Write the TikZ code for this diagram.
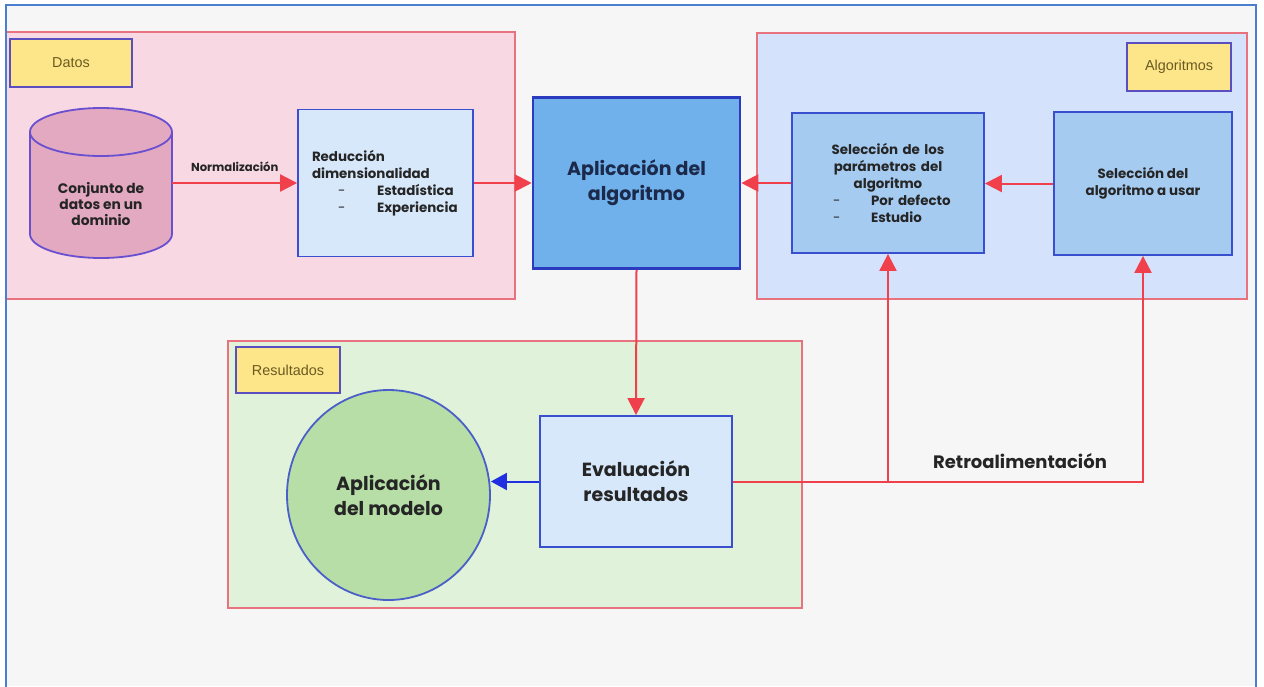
\documentclass[tikz,border=0pt]{standalone}
\usepackage{fontspec}
\setmainfont{Poppins}
\newfontfamily\tagfont{Liberation Sans}
\usetikzlibrary{arrows.meta,shapes.geometric}

\definecolor{frameblue}{HTML}{4A7FD0}
\definecolor{pagebg}{HTML}{F6F6F6}
\definecolor{panelred}{HTML}{E8737F}
\definecolor{datosfill}{HTML}{F7D8E3}
\definecolor{algfill}{HTML}{D4E3FB}
\definecolor{resfill}{HTML}{E0F2DA}
\definecolor{tagfill}{HTML}{FDE68A}
\definecolor{tagedge}{HTML}{5B4FC0}
\definecolor{tagtext}{HTML}{6B5A20}
\definecolor{cylfill}{HTML}{E2A9C0}
\definecolor{cyledge}{HTML}{6A4FD0}
\definecolor{boxedge}{HTML}{3A4FD0}
\definecolor{lightbox}{HTML}{D7E8FB}
\definecolor{midbox}{HTML}{A5CBF1}
\definecolor{corefill}{HTML}{70B0EB}
\definecolor{coreedge}{HTML}{2A3BC0}
\definecolor{corecolor}{HTML}{1B2A4A}
\definecolor{modelfill}{HTML}{B6DEA6}
\definecolor{modeledge}{HTML}{4A5FC8}
\definecolor{flowred}{HTML}{F0404C}
\definecolor{flowblue}{HTML}{2030E0}
\definecolor{ink}{HTML}{252525}

\newcommand{\smalltxt}{\fontsize{6.7}{8.5}\selectfont\bfseries}
\newcommand{\bigtxt}{\fontsize{9.5}{12.5}\selectfont\bfseries}
% bullet line: light dash and item text at fixed offsets
\newcommand{\dashitem}[3]{\hspace*{#1}\makebox[#2][l]{\mdseries -}#3}

\tikzset{
  panel/.style={draw=panelred, line width=0.7pt},
  tag/.style={draw=tagedge, fill=tagfill, line width=0.8pt, inner sep=0pt,
    text=tagtext, font=\tagfont\fontsize{7.2}{8}\selectfont},
  stepbox/.style={draw=boxedge, line width=0.9pt, inner sep=0pt, text=ink},
  flow/.style={draw=flowred, line width=1pt, -{Triangle[length=8.5pt,width=8.5pt]}},
}

\begin{document}
\begin{tikzpicture}[x=0.5pt,y=-0.5pt]
\useasboundingbox (0,0) rectangle (1264,686);
\fill[white] (0,0) rectangle (1264,686);
\fill[pagebg] (6,5) rectangle (1256,686);

% containers
\draw[panel, fill=datosfill] (6,32) rectangle (515,299);
\draw[panel, fill=algfill] (757,33) rectangle (1247,299);
\draw[panel, fill=resfill] (228,341) rectangle (802,608);

% page frame
\draw[frameblue, line width=1pt] (6,690) -- (6,5) -- (1256,5) -- (1256,690);

% group tags
\node[tag, minimum width=61pt, minimum height=24pt] (tdatos) at (71,63) {Datos};
\node[tag, minimum width=52pt, minimum height=24pt] (talg) at (1179,67) {Algoritmos};
\node[tag, minimum width=52pt, minimum height=23pt] (tres) at (288,370) {Resultados};

% data store cylinder
\draw[cyledge, fill=cylfill, line width=0.9pt]
  (30,132) -- (30,234) arc[start angle=180, end angle=360, x radius=35.5pt, y radius=12pt]
  -- (172,132);
\draw[cyledge, fill=cylfill, line width=0.9pt] (101,132) ellipse[x radius=35.5pt, y radius=12pt];
\node[minimum width=71pt, minimum height=75pt, inner sep=0pt] (cyl) at (101,183) {};
\node[text=ink, align=center, font=\fontsize{6.9}{8.2}\selectfont\bfseries, inner sep=0pt]
  (cyltext) at (101,204) {Conjunto de\\datos en un\\dominio};

% processing boxes
\node[stepbox, fill=lightbox, minimum width=87.5pt, minimum height=73.5pt,
  text width=73.5pt, inner xsep=7pt, align=left, font=\smalltxt] (red) at (385.5,183)
  {Reducción\\dimensionalidad\\
   \dashitem{13pt}{19.5pt}{Estadística}\\
   \dashitem{13pt}{19.5pt}{Experiencia}};

\node[stepbox, draw=coreedge, line width=1.3pt, fill=corefill, minimum width=103.5pt,
  minimum height=85.5pt, align=center, text=corecolor, font=\bigtxt] (alg) at (636.5,183)
  {Aplicación del\\algoritmo};

\node[stepbox, fill=midbox, minimum width=96pt, minimum height=70pt,
  text width=96pt, align=center, font=\smalltxt] (sp) at (888,183)
  {Selección de los\\parámetros del\\algoritmo\\
   \makebox[96pt][l]{\dashitem{20.5pt}{19pt}{Por defecto}}\\
   \makebox[96pt][l]{\dashitem{20.5pt}{19pt}{Estudio}}};

\node[stepbox, fill=midbox, minimum width=89pt, minimum height=71.5pt,
  align=center, font=\smalltxt] (sa) at (1143,183.5)
  {Selección del\\algoritmo a usar};

\node[stepbox, fill=lightbox, minimum width=96pt, minimum height=65.5pt,
  align=center, font=\bigtxt] (ev) at (636,481.5)
  {Evaluación\\resultados};

\node[ellipse, draw=modeledge, line width=0.9pt, fill=modelfill, inner sep=0pt,
  minimum width=101.5pt, minimum height=105pt, align=center, text=ink,
  font=\bigtxt] (mod) at (388.5,495)
  {Aplicación\\del modelo};

% main flow
\draw[flow] (cyl.east) -- node[above=2pt, text=ink, font=\fontsize{5.8}{6.5}\selectfont\bfseries]
  (lnorm) {Normalización} (red.west);
\draw[flow] (red.east) -- (alg.west);
\draw[flow] (sa.west) -- (sp.east |- sa.west);
\draw[flow] (sp.west) -- (alg.east |- sp.west);
\draw[flow] (alg.south) -- (ev.north);
\draw[draw=flowblue, line width=1pt, -{Triangle[length=8pt,width=8.5pt]}]
  (ev.west) -- (mod.east |- ev.west);

% feedback loop
\draw[flow] (ev.east) -| (sa.south);
\draw[flow] (sp.south |- ev.east) -- (sp.south);
\node[text=ink, font=\fontsize{9}{10}\selectfont\bfseries] (retro) at (1020,461)
  {Retroalimentación};
\end{tikzpicture}
\end{document}
